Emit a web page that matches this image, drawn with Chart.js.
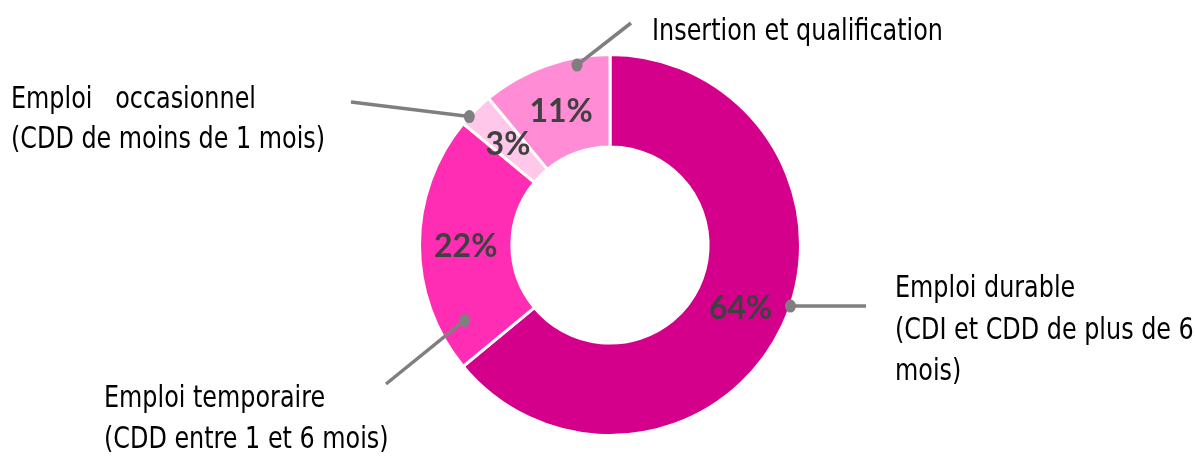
<!DOCTYPE html>
<html>
<head>
<meta charset="utf-8">
<script src="https://cdn.jsdelivr.net/npm/chart.js@4"></script>
<style>
  body { margin: 0; background: #fff; }
  #wrap { width: 1195px; height: 460px; position: relative; }
</style>
</head>
<body>
<div id="wrap"><canvas id="donut"></canvas></div>
<script>
var categories = ['Emploi durable', 'Emploi temporaire', 'Emploi occasionnel', 'Insertion et qualification'];
var values = [64, 22, 3, 11];
var couleurs = ['#D4008C', '#FF2DB4', '#FFC8EB', '#FF8CD4'];

// texte des étiquettes (plusieurs lignes)
var etiquettes = [
  ['Emploi durable', '(CDI et CDD de plus de 6', 'mois)'],
  ['Emploi temporaire', '(CDD entre 1 et 6 mois)'],
  ['Emploi   occasionnel', '(CDD de moins de 1 mois)'],
  ['Insertion et qualification']
];

// placement des étiquettes et traits de rappel
var rappels = [
  { angle: 18.7, r: 1.0, fin: [866, 306], x: 895, y: [297, 339, 380] },
  { angle: 152.6, r: 0.86, fin: [386, 384], x: 104, y: [407, 448] },
  { angle: 222.4, r: 1.0, fin: [351, 102], x: 11, y: [108, 148] },
  { angle: 259.6, r: 0.96, fin: [631, 23], x: 652, y: [40] }
];

var police = '"DejaVu Sans Condensed", sans-serif';
var serrage = 0.885; // police plus étroite que DejaVu

var pluginEtiquettes = {
  id: 'etiquettes',
  afterDatasetsDraw: function (chart) {
    var ctx = chart.ctx;
    var arcs = chart.getDatasetMeta(0).data;
    ctx.save();
    arcs.forEach(function (arc, i) {
      var p = arc.getProps(['x', 'y', 'outerRadius'], true);
      // pourcentage au centre du segment
      var pos = arc.tooltipPosition(true);
      ctx.fillStyle = '#404040';
      ctx.font = 'bold 32px Lato, "DejaVu Sans", sans-serif';
      ctx.textAlign = 'center';
      ctx.textBaseline = 'middle';
      ctx.fillText(values[i] + '%', pos.x, pos.y + 2);

      // trait de rappel
      var rp = rappels[i];
      var a = rp.angle * Math.PI / 180;
      var ax = p.x + Math.cos(a) * p.outerRadius * rp.r;
      var ay = p.y + Math.sin(a) * p.outerRadius * rp.r;
      ctx.strokeStyle = '#7F7F7F';
      ctx.lineWidth = 3.5;
      ctx.beginPath();
      ctx.moveTo(ax, ay);
      ctx.lineTo(rp.fin[0], rp.fin[1]);
      ctx.stroke();
      ctx.fillStyle = '#7F7F7F';
      ctx.beginPath();
      ctx.ellipse(ax, ay, 5.5, 6.5, 0, 0, Math.PI * 2);
      ctx.fill();

      // texte
      ctx.fillStyle = '#000';
      ctx.font = '30px ' + police;
      ctx.textAlign = 'left';
      ctx.textBaseline = 'alphabetic';
      etiquettes[i].forEach(function (ligne, j) {
        ctx.save();
        ctx.translate(rp.x, rp.y[j]);
        ctx.scale(serrage, 1);
        ctx.fillText(ligne, 0, 0);
        ctx.restore();
      });
    });
    ctx.restore();
  }
};

var contexteDonut = document.getElementById('donut');
var graphiqueDonut = new Chart(contexteDonut, {
  type: 'doughnut',
  data: {
    labels: categories,
    datasets: [{
      data: values,
      backgroundColor: couleurs,
      borderColor: '#FFFFFF',
      borderWidth: 3
    }]
  },
  options: {
    responsive: true,
    maintainAspectRatio: false,
    animation: false,
    cutout: '51.5%',
    layout: {
      padding: { left: 418, right: 393, top: 53, bottom: 23 }
    },
    plugins: {
      legend: { display: false },
      tooltip: { enabled: false }
    }
  },
  plugins: [pluginEtiquettes]
});
</script>
</body>
</html>
